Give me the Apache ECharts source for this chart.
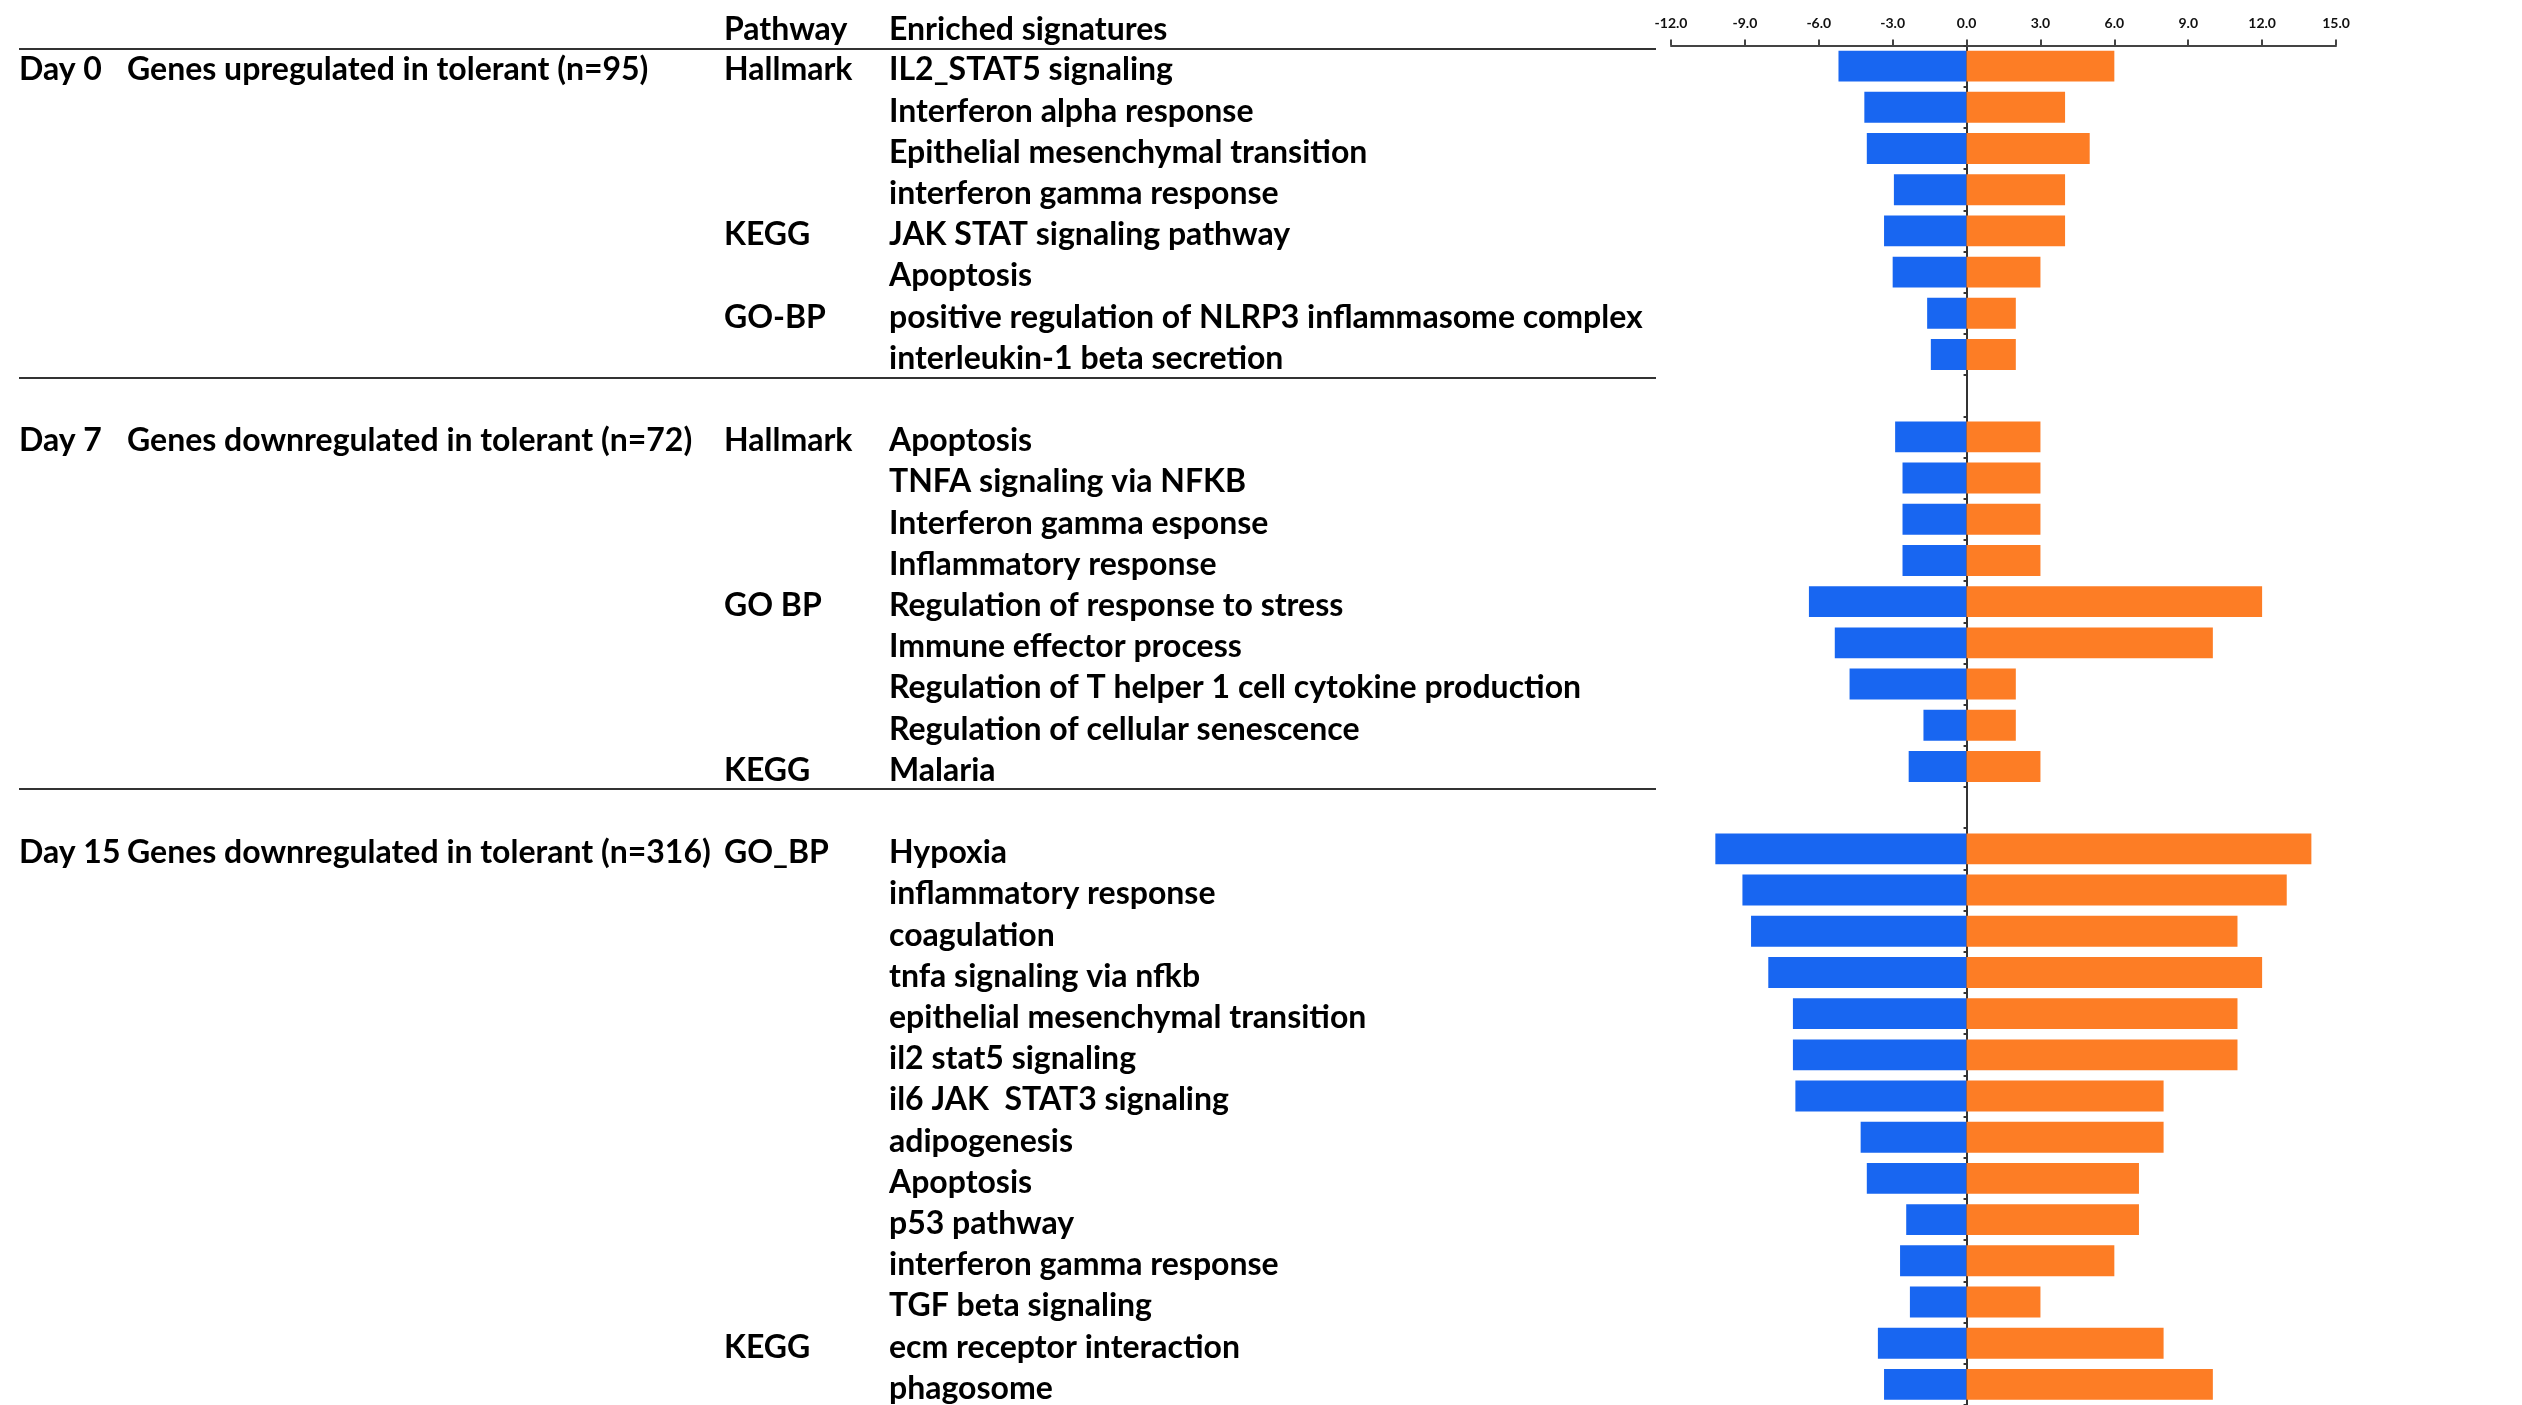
<!DOCTYPE html>
<html>
<head>
<meta charset="utf-8">
<script src="https://cdn.jsdelivr.net/npm/echarts@6/dist/echarts.min.js"></script>
<style>
html,body{margin:0;padding:0;background:#fff;}
#chart{width:2522px;height:1405px;}
</style>
</head>
<body>
<div id="chart"></div>
<script>
// ---- data ----
const signatures = [
  'IL2_STAT5 signaling','Interferon alpha response','Epithelial mesenchymal transition','interferon gamma response',
  'JAK STAT signaling pathway','Apoptosis','positive regulation of NLRP3 inflammasome complex','interleukin-1 beta secretion',
  '',
  'Apoptosis','TNFA signaling via NFKB','Interferon gamma esponse','Inflammatory response',
  'Regulation of response to stress','Immune effector process','Regulation of T helper 1 cell cytokine production',
  'Regulation of cellular senescence','Malaria',
  '',
  'Hypoxia','inflammatory response','coagulation','tnfa signaling via nfkb','epithelial mesenchymal transition',
  'il2 stat5 signaling','il6 JAK  STAT3 signaling','adipogenesis','Apoptosis','p53 pathway',
  'interferon gamma response','TGF beta signaling','ecm receptor interaction','phagosome'
];
const pathways = [
  'Hallmark','','','','KEGG','','GO-BP','',
  '',
  'Hallmark','','','','GO BP','','','','KEGG',
  '',
  'GO_BP','','','','','','','','','','','','KEGG',''
];
const dayLabels = [
  'Day 0','','','','','','','',
  '',
  'Day 7','','','','','','','','',
  '',
  'Day 15','','','','','','','','','','','','',''
];
const groupLabels = [
  'Genes upregulated in tolerant (n=95)','','','','','','','',
  '',
  'Genes downregulated in tolerant (n=72)','','','','','','','','',
  '',
  'Genes downregulated in tolerant (n=316)','','','','','','','','','','','','',''
];
// blue bars (negative side)
const logPValues = [
  -5.2,-4.15,-4.05,-2.95,-3.35,-3.0,-1.6,-1.45,
  null,
  -2.9,-2.6,-2.6,-2.6,-6.4,-5.35,-4.75,-1.75,-2.35,
  null,
  -10.2,-9.1,-8.75,-8.05,-7.05,-7.05,-6.95,-4.3,-4.05,-2.45,-2.7,-2.3,-3.6,-3.35
];
// orange bars (positive side)
const geneCounts = [
  6,4,5,4,4,3,2,2,
  null,
  3,3,3,3,12,10,2,2,3,
  null,
  14,13,11,12,11,11,8,8,7,7,6,3,8,10
];
const xMin = -12, xMax = 15, xStep = 3;
const separatorRows = [0, 8, 18];

// ---- chart ----
const FONT = 'Lato';
const txt = {fontFamily: FONT, fontWeight: 'bold', fontSize: 32, color: '#000'};
const chart = echarts.init(document.getElementById('chart'));
const GRID_LEFT = 1671;

function textAxis(data, colX, name) {
  const ax = {
    gridIndex: 0, type: 'category', data: data, inverse: true, position: 'left',
    offset: GRID_LEFT - colX,
    axisLine: {show: false, onZero: false}, axisTick: {show: false}, splitLine: {show: false},
    axisLabel: Object.assign({show: true, interval: 0, align: 'left', margin: 0,
      verticalAlign: 'top', lineHeight: 8}, txt)
  };
  if (name) {
    ax.name = name; ax.nameLocation = 'start'; ax.nameGap = 16;
    ax.nameTextStyle = Object.assign({align: 'left', verticalAlign: 'middle'}, txt);
  }
  return ax;
}

chart.setOption({
  animation: false,
  backgroundColor: '#fff',
  grid: [
    {left: GRID_LEFT, right: 186, top: 45.5, bottom: -3},
    {left: 19, right: 866, top: 48.5, bottom: -6}
  ],
  xAxis: [
    {
      gridIndex: 0, type: 'value', position: 'top', min: xMin, max: xMax, interval: xStep,
      axisLine: {show: true, lineStyle: {color: '#444', width: 2}},
      axisTick: {show: true, length: 6, lineStyle: {color: '#444', width: 2}},
      splitLine: {show: false},
      axisLabel: {formatter: v => v.toFixed(1), fontFamily: FONT, fontWeight: 'bold', fontSize: 14, color: '#111', margin: 15}
    },
    {gridIndex: 1, type: 'value', show: false, min: 0, max: 1}
  ],
  yAxis: [
    {
      gridIndex: 0, type: 'category', data: signatures, inverse: true,
      axisLine: {show: true, onZero: true, lineStyle: {color: '#333', width: 2}},
      axisTick: {show: true, length: 3, lineStyle: {color: '#333', width: 2}},
      axisLabel: {show: false}, splitLine: {show: false}
    },
    textAxis(signatures, 889, 'Enriched signatures'),
    textAxis(pathways, 724, 'Pathway'),
    textAxis(dayLabels, 19, null),
    textAxis(groupLabels, 127, null),
    {
      gridIndex: 1, type: 'category', data: signatures, inverse: true,
      axisLine: {show: false}, axisTick: {show: false}, axisLabel: {show: false},
      splitLine: {show: true, interval: (idx) => separatorRows.indexOf(idx) >= 0,
        lineStyle: {color: ['#333', '#333', '#333', 'rgba(0,0,0,0)'], width: 2}}
    }
  ],
  series: [
    {
      type: 'bar', xAxisIndex: 0, yAxisIndex: 0, data: logPValues,
      barWidth: '75%', barGap: '-100%',
      itemStyle: {color: '#1866F1'}, z: 2
    },
    {
      type: 'bar', xAxisIndex: 0, yAxisIndex: 0, data: geneCounts,
      barWidth: '75%', barGap: '-100%',
      itemStyle: {color: '#FD7D25'}, z: 2
    }
  ]
});
</script>
</body>
</html>
